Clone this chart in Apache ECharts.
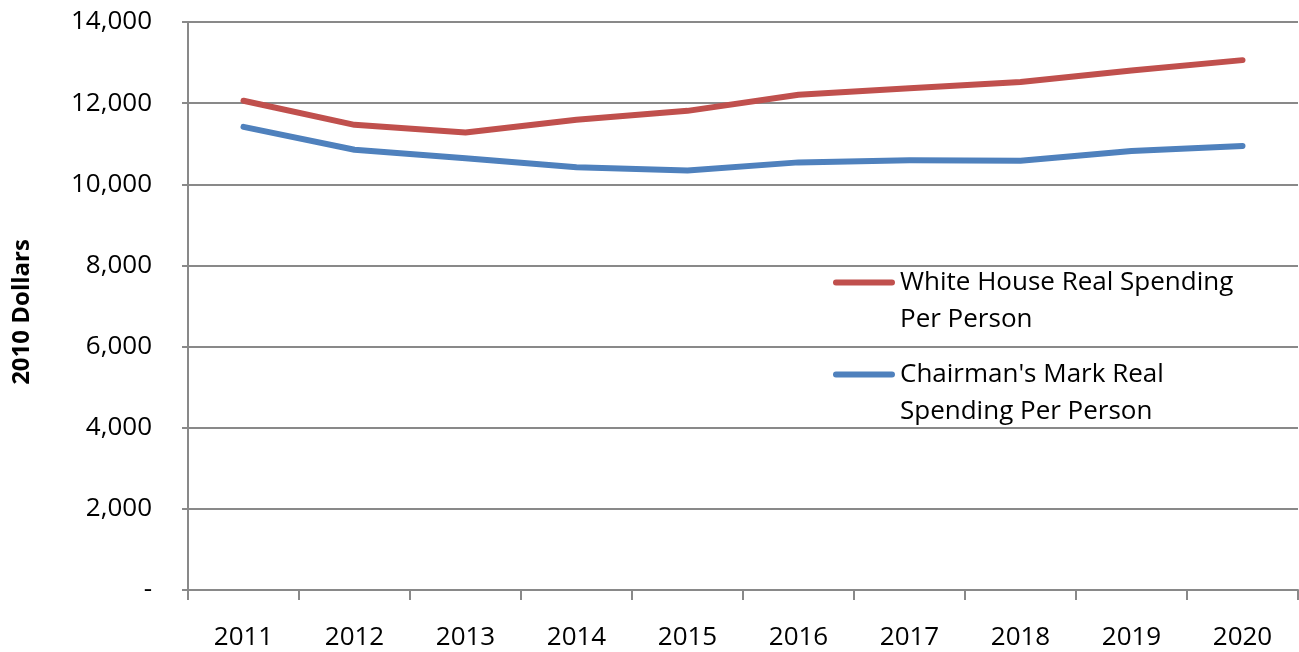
<!DOCTYPE html>
<html>
<head>
<meta charset="utf-8">
<script src="https://cdn.jsdelivr.net/npm/echarts@6/dist/echarts.min.js"></script>
<style>
  html, body { margin: 0; padding: 0; background: #fff; }
  #main { width: 1299px; height: 652px; }
</style>
</head>
<body>
<div id="main"></div>
<script>
var years = ['2011', '2012', '2013', '2014', '2015', '2016', '2017', '2018', '2019', '2020'];
var whiteHouse = [12060, 11465, 11275, 11590, 11810, 12205, 12370, 12520, 12805, 13060];
var chairmansMark = [11415, 10850, 10640, 10420, 10340, 10540, 10590, 10580, 10820, 10945];
var yTicks = [0, 2000, 4000, 6000, 8000, 10000, 12000, 14000];

var gridColor = '#898989';
var fontName = 'Open Sans';

// icon: bar sits on first text line, tiny dots keep the box 74px tall
var legendIcon = 'path://M3,15.5h56a3,3 0 0 1 0,6h-56a3,3 0 0 1 0,-6z M0,0h0.01v0.01h-0.01z M62,74h0.01v0.01h-0.01z';

function legendFor(name, top) {
  return {
    data: [name],
    left: 833,
    top: top,
    padding: 0,
    orient: 'vertical',
    icon: legendIcon,
    itemWidth: 62,
    itemHeight: 74,
    itemGap: 0,
    selectedMode: false,
    textStyle: {
      fontFamily: fontName,
      fontSize: 26,
      color: '#000',
      lineHeight: 37
    }
  };
}

var chart = echarts.init(document.getElementById('main'));
var option = {
  backgroundColor: '#fff',
  animation: false,
  grid: { left: 188, right: 1, top: 22, bottom: 62 },
  legend: [
    legendFor('White House Real Spending\nPer Person', 264),
    legendFor('Chairman\'s Mark Real\nSpending Per Person', 356)
  ],
  xAxis: {
    type: 'category',
    data: years,
    boundaryGap: true,
    axisLine: { lineStyle: { color: gridColor, width: 2 } },
    axisTick: { show: true, length: 10, inside: false, lineStyle: { color: gridColor, width: 2 } },
    axisLabel: { margin: 35, fontFamily: fontName, fontSize: 26, color: '#000' }
  },
  yAxis: {
    type: 'value',
    min: 0,
    max: 14000,
    interval: 2000,
    name: '2010 Dollars',
    nameLocation: 'middle',
    nameGap: 154,
    nameRotate: 90,
    nameTextStyle: { fontFamily: fontName, fontSize: 24, fontWeight: 'bold', color: '#000', padding: [0, 12, 0, 0] },
    axisLine: { show: true, lineStyle: { color: gridColor, width: 2 } },
    axisTick: { show: true, length: 6, lineStyle: { color: gridColor, width: 2 } },
    splitLine: { lineStyle: { color: gridColor, width: 2 } },
    axisLabel: {
      margin: 36,
      fontFamily: fontName,
      fontSize: 26,
      color: '#000',
      formatter: function (v) {
        if (yTicks.indexOf(v) < 0) return '';
        return v === 0 ? '-' : v.toLocaleString('en-US');
      }
    }
  },
  series: [
    {
      name: 'White House Real Spending\nPer Person',
      type: 'line',
      data: whiteHouse,
      showSymbol: false,
      lineStyle: { color: '#C0504D', width: 6, cap: 'round', join: 'round' },
      itemStyle: { color: '#C0504D', borderWidth: 0 }
    },
    {
      name: 'Chairman\'s Mark Real\nSpending Per Person',
      type: 'line',
      data: chairmansMark,
      showSymbol: false,
      lineStyle: { color: '#4F81BD', width: 6, cap: 'round', join: 'round' },
      itemStyle: { color: '#4F81BD', borderWidth: 0 }
    }
  ]
};
chart.setOption(option);
</script>
</body>
</html>
